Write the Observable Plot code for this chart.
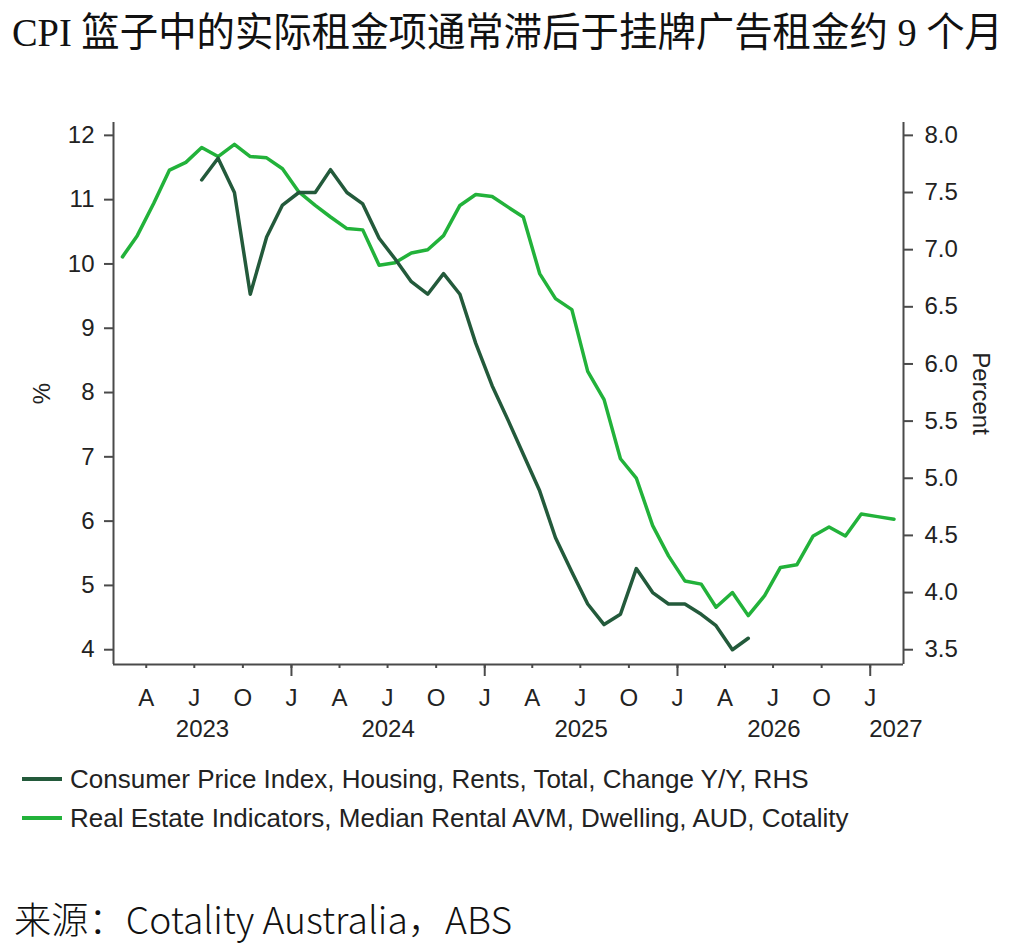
<!DOCTYPE html>
<html>
<head>
<meta charset="utf-8">
<script src="https://cdn.jsdelivr.net/npm/d3@7"></script>
<script src="https://cdn.jsdelivr.net/npm/@observablehq/plot@0.6"></script>
<style>
  body { margin: 0; background: #fff; }
  #wrap { position: relative; width: 1020px; height: 944px; overflow: hidden; background: #fff;
          font-family: "Liberation Sans", Arial, sans-serif; color: #222; }
  #title { position: absolute; left: 12px; top: 8px; white-space: nowrap; color: #111; transform-origin: 0 50%;
           font-family: "Liberation Serif", "Noto Sans CJK SC", serif; font-size: 40px; line-height: 50px; }
  #chart { position: absolute; left: 0; top: 80px; }
  .legend-row { position: absolute; left: 22px; height: 30px; display: flex; align-items: center; white-space: nowrap; }
  .swatch { width: 40px; height: 4px; margin-right: 8px; }
  .legend-row span { font-size: 26px; color: #222; }
  #source { position: absolute; left: 14px; top: 895px; white-space: nowrap; color: #111; transform-origin: 0 50%;
            font-family: "Noto Sans CJK SC", sans-serif; font-weight: 300; font-size: 37px; line-height: 46px; }
</style>
</head>
<body>
<div id="wrap">
  <div id="title">CPI 篮子中的实际租金项通常滞后于挂牌广告租金约 9 个月</div>
  <div id="chart"></div>
  <div class="legend-row" style="top:764px"><div class="swatch" id="sw1"></div><span>Consumer Price Index, Housing, Rents, Total, Change Y/Y, RHS</span></div>
  <div class="legend-row" style="top:803px"><div class="swatch" id="sw2"></div><span>Real Estate Indicators, Median Rental AVM, Dwelling, AUD, Cotality</span></div>
  <div id="source">来源：Cotality Australia，ABS</div>
</div>
<script>
// Advertised rents (Cotality median rental AVM, y/y %, advanced 9 months), left axis
const listingStart = "2023-02";
const listingRent = [
  10.11, 10.44, 10.94, 11.46, 11.58, 11.81, 11.67, 11.86, 11.67, 11.65, 11.48,
  11.12, 10.91, 10.73, 10.55, 10.53, 9.98, 10.02, 10.17, 10.22, 10.44, 10.91, 11.08,
  11.05, 10.88, 10.73, 9.85, 9.46, 9.29, 8.33, 7.89, 6.97, 6.67, 5.93, 5.46,
  5.07, 5.02, 4.66, 4.89, 4.53, 4.84, 5.28, 5.32, 5.77, 5.91, 5.77, 6.11,
  6.07, 6.03
];

// CPI housing rents, y/y %, right axis
const cpiStart = "2023-07";
const cpiRent = [
  7.61, 7.80, 7.50, 6.61, 7.11, 7.39,
  7.50, 7.50, 7.70, 7.50, 7.40, 7.10, 6.92, 6.72, 6.61, 6.79, 6.61, 6.18,
  5.81, 5.50, 5.21, 4.89, 4.48, 4.18, 3.90, 3.72, 3.81, 4.21, 4.00, 3.90,
  3.90, 3.81, 3.71, 3.50, 3.60
];

const leftTicks = [4, 5, 6, 7, 8, 9, 10, 11, 12];
const rightTicks = [3.5, 4.0, 4.5, 5.0, 5.5, 6.0, 6.5, 7.0, 7.5, 8.0];
const monthLetters = ["J", "F", "M", "A", "M", "J", "J", "A", "S", "O", "N", "D"];
const years = [2023, 2024, 2025, 2026, 2027];

const darkGreen = "#235a3b";
const lightGreen = "#22b23a";
const axisColor = "#4a4a4a";

// Right axis (3.5–8.0) shares the frame with the left axis (4–12)
const toLeft = r => 12 - (8 - r) * (8 / 4.5);
const toRight = l => 8 - (12 - l) * (4.5 / 8);

// Monthly observations are placed mid-month
const monthSeries = (start, values) => {
  const [y, m] = start.split("-").map(Number);
  return values.map((v, i) => ({ date: new Date(Date.UTC(y, m - 1 + i, 15)), value: v }));
};
const listing = monthSeries(listingStart, listingRent);
const cpi = monthSeries(cpiStart, cpiRent);

const x0 = new Date(Date.UTC(2023, 0, 29));
const x1 = new Date(Date.UTC(2027, 2, 5));
const yLo = 3.77, yHi = 12.2;

const quarterTicks = d3.utcMonth.every(3).range(new Date(Date.UTC(2023, 3, 1)), x1);
const janTicks = d3.utcYear.range(new Date(Date.UTC(2024, 0, 1)), x1);

// Year labels: centred on the visible part of each year; a year that only
// just starts inside the frame is left-aligned at its first day
const yearLabels = years.map(y => {
  const a = new Date(Math.max(Date.UTC(y, 0, 1), +x0));
  const b = new Date(Math.min(Date.UTC(y + 1, 0, 1), +x1));
  const short = (b - a) < 90 * 864e5;
  return { year: String(y), date: short ? a : new Date((+a + +b) / 2), short };
});

const chart = Plot.plot({
  width: 1020,
  height: 680,
  marginLeft: 113,
  marginRight: 117,
  marginTop: 42,
  marginBottom: 96,
  x: { type: "utc", domain: [x0, x1] },
  y: { domain: [yLo, yHi] },
  style: { fontFamily: "'Liberation Sans', Arial, sans-serif", fontSize: "24px", color: "#222", background: "#fff", overflow: "visible" },
  marks: [
    Plot.axisY({ anchor: "left", ticks: leftTicks, tickSize: 9, tickPadding: 10, label: null, stroke: axisColor, strokeWidth: 2 }),
    Plot.axisY({ anchor: "right", ticks: rightTicks.map(toLeft), tickFormat: d => toRight(d).toFixed(1),
                 tickSize: 9, tickPadding: 12, label: null, stroke: axisColor, strokeWidth: 2 }),
    Plot.axisX({ ticks: quarterTicks, tickSize: 4, tickPadding: 20, label: null, stroke: axisColor, strokeWidth: 2,
                 tickFormat: d => monthLetters[d.getUTCMonth()] }),
    Plot.axisX({ ticks: janTicks, tickSize: 12, tickFormat: () => "", label: null, stroke: axisColor, strokeWidth: 2 }),
    Plot.text(yearLabels.filter(d => !d.short), { x: "date", text: "year", frameAnchor: "bottom", dy: 72, textAnchor: "middle" }),
    Plot.text(yearLabels.filter(d => d.short), { x: "date", text: "year", frameAnchor: "bottom", dy: 72, textAnchor: "start", dx: -1 }),
    Plot.ruleX([x0, x1], { y1: yLo, y2: yHi, stroke: axisColor, strokeWidth: 2 }),
    Plot.ruleY([yLo], { stroke: axisColor, strokeWidth: 2 }),
    Plot.line(listing, { x: "date", y: "value", stroke: lightGreen, strokeWidth: 3.5 }),
    Plot.line(cpi, { x: "date", y: d => toLeft(d.value), stroke: darkGreen, strokeWidth: 3.5 }),
    Plot.text(["%"], { frameAnchor: "left", dx: -71, rotate: -90, textAnchor: "middle" }),
    Plot.text(["Percent"], { frameAnchor: "right", dx: 77, rotate: 90, textAnchor: "middle" })
  ]
});
document.getElementById("chart").append(chart);
document.getElementById("sw1").style.background = darkGreen;
document.getElementById("sw2").style.background = lightGreen;

// Stretch the title and source line horizontally to their set widths
const fitWidth = (id, w) => {
  const el = document.getElementById(id);
  const cur = el.getBoundingClientRect().width;
  el.style.transform = `scaleX(${w / cur})`;
};
fitWidth("title", 991);
fitWidth("source", 498);
</script>
</body>
</html>
